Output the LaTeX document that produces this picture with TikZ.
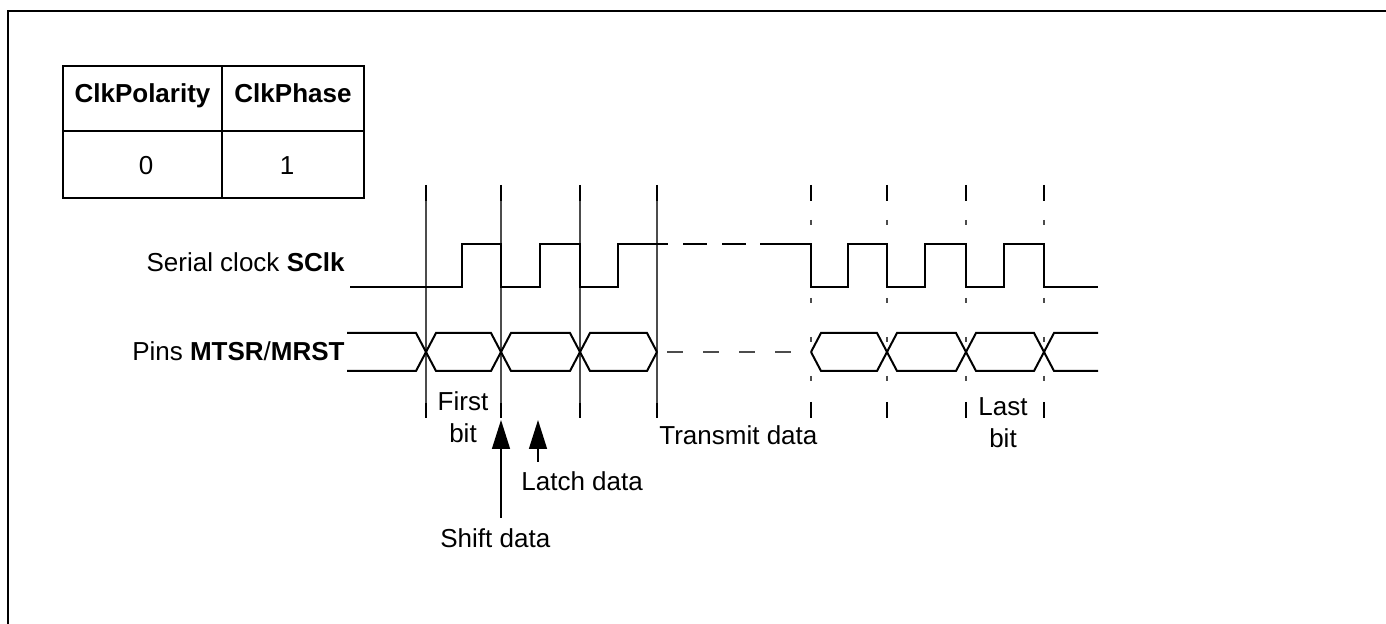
\documentclass[tikz,border=0pt]{standalone}
\usepackage{fontspec}
\setmainfont{Liberation Sans}
\usetikzlibrary{arrows.meta}

\tikzset{
  lbl/.style={font=\fontsize{13}{16}\selectfont, inner sep=0pt},
  head/.style={font=\fontsize{13}{16}\selectfont\bfseries, inner sep=0pt},
  wave/.style={line width=1pt, line join=miter},
  gridline/.style={line width=0.6pt, black!70},
  tick/.style={line width=1pt},
  pointer/.style={line width=0.75pt, -{Triangle[length=14.5pt,width=9pt]}},
}

\begin{document}
\begin{tikzpicture}[x=0.5pt, y=-0.5pt]
  \useasboundingbox (0,0) rectangle (1386,624);
  \clip (0,0) rectangle (1386,624);

  % Rahmen
  \draw[line width=1pt] (8,640) -- (8,11) -- (1400,11);

  % Tabelle: ClkPolarity / ClkPhase
  \draw[line width=0.75pt] (63,66) rectangle (364,198);
  \draw[line width=0.75pt] (63,131) -- (364,131);
  \draw[line width=0.75pt] (222,66) -- (222,198);
  \node[head, anchor=base] (pol) at (142.5,103) {ClkPolarity};
  \node[head, anchor=base] (pha) at (293,103) {ClkPhase};
  \node[lbl, anchor=base] (polval) at (146,175) {0};
  \node[lbl, anchor=base] (phaval) at (287,175) {1};

  % Signalnamen
  \node[lbl, anchor=base east] (sclk) at (345,272) {Serial clock \textbf{SClk}};
  \node[lbl, anchor=base east] (pins) at (345,361) {Pins \textbf{MTSR}/\textbf{MRST}};

  % Hilfslinien links (durchgezogen)
  \foreach \x in {426,501,580,657} {
    \draw[tick] (\x,185) -- (\x,201);
    \draw[gridline] (\x,201) -- (\x,403);
    \draw[tick] (\x,403) -- (\x,418);
  }
  % Hilfslinien rechts (strichpunktiert)
  \foreach \x in {811,887,966,1044} {
    \draw[tick] (\x,185) -- (\x,201);
    \draw[gridline, dash pattern=on 2.5pt off 17pt] (\x,220) -- (\x,381);
    \draw[tick] (\x,402) -- (\x,418);
  }

  % Takt SClk
  \draw[wave] (350,287) -- (462,287) -- (462,244) -- (501,244) -- (501,287)
    -- (540,287) -- (540,244) -- (580,244) -- (580,287) -- (618,287)
    -- (618,244) -- (668,244);
  \draw[wave, dash pattern=on 12pt off 7.5pt, dash phase=12pt] (668,244) -- (760,244);
  \draw[wave] (760,244) -- (811,244) -- (811,287) -- (848,287) -- (848,244)
    -- (887,244) -- (887,287) -- (925,287) -- (925,244) -- (966,244)
    -- (966,287) -- (1004,287) -- (1004,244) -- (1044,244) -- (1044,287)
    -- (1098,287);

  % Daten MTSR/MRST
  \draw[wave] (347,333) -- (416,333) -- (436,371) -- (491,371) -- (511,333)
    -- (570,333) -- (590,371) -- (647,371) -- (657,352);
  \draw[wave] (347,371) -- (416,371) -- (436,333) -- (491,333) -- (511,371)
    -- (570,371) -- (590,333) -- (647,333) -- (657,352);
  \draw[gridline, line width=0.75pt, dash pattern=on 8pt off 10pt, dash phase=-5pt] (657,352) -- (811,352);
  \draw[wave] (811,352) -- (821,333) -- (877,333) -- (897,371) -- (956,371)
    -- (976,333) -- (1034,333) -- (1054,371) -- (1098,371);
  \draw[wave] (811,352) -- (821,371) -- (877,371) -- (897,333) -- (956,333)
    -- (976,371) -- (1034,371) -- (1054,333) -- (1098,333);

  % Beschriftungen
  \node[lbl, align=center, anchor=north] (first) at (463,391) {First\\bit};
  \node[lbl, align=center, anchor=north] (last) at (1003,397) {Last\\bit};
  \node[lbl, anchor=base west] (transmit) at (659,445) {Transmit data};
  \node[lbl, anchor=base west] (latch) at (521,491) {Latch data};
  \node[lbl, anchor=base west] (shift) at (440,547) {Shift data};

  % Pfeile
  \coordinate (shifttip) at (501,420);
  \coordinate (latchtip) at (538,420);
  \draw[pointer] ([yshift=5pt]shift.north -| shifttip) -- (shifttip);
  \draw[pointer] ([yshift=5pt]latch.north -| latchtip) -- (latchtip);
\end{tikzpicture}
\end{document}
